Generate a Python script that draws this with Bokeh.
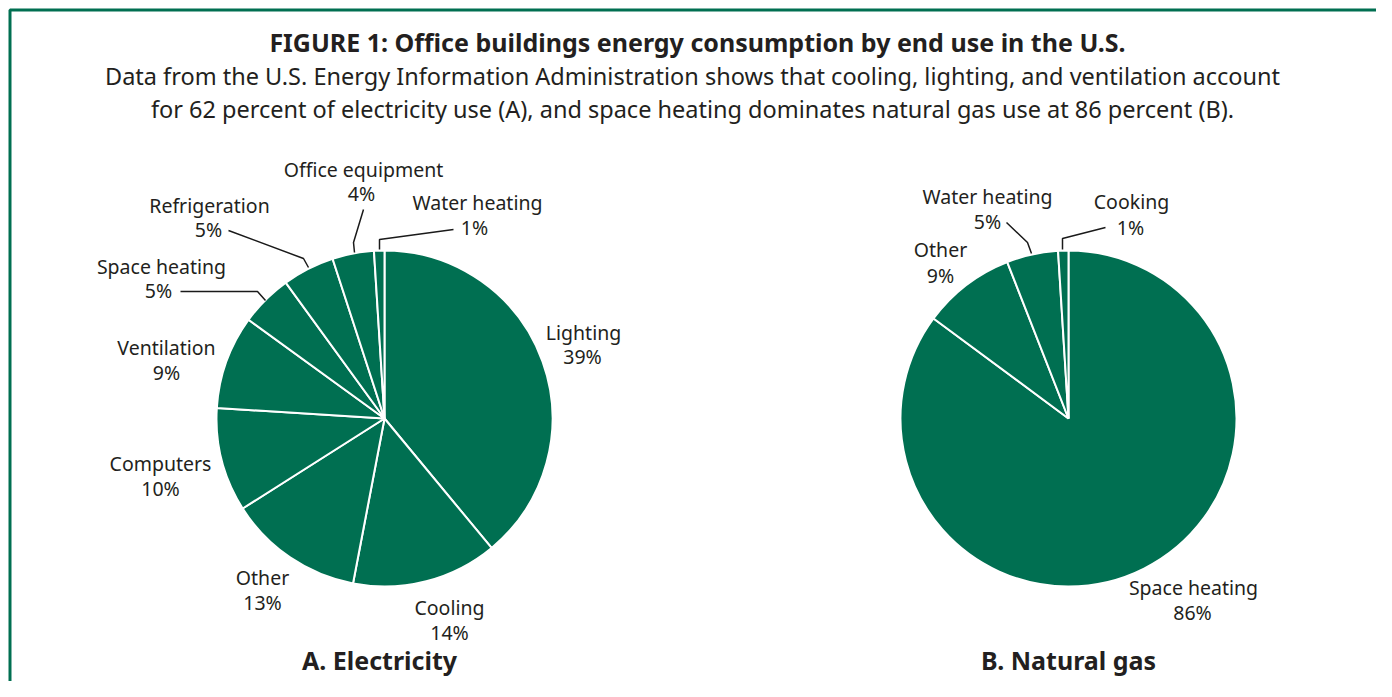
import math
from bokeh.plotting import figure
from bokeh.models import ColumnDataSource, Range1d
from bokeh.core.properties import value
from bokeh.embed import file_html
from bokeh.resources import INLINE

# ---------------- data ----------------
elec_categories = ["Lighting", "Cooling", "Other", "Computers", "Ventilation",
                   "Space heating", "Refrigeration", "Office equipment", "Water heating"]
elec_values = [39, 14, 13, 10, 9, 5, 5, 4, 1]

gas_categories = ["Space heating", "Other", "Water heating", "Cooking"]
gas_values = [86, 9, 5, 1]

title_text = "FIGURE 1: Office buildings energy consumption by end use in the U.S."
subtitle_lines = [
    "Data from the U.S. Energy Information Administration shows that cooling, lighting, and ventilation account",
    "for 62 percent of electricity use (A), and space heating dominates natural gas use at 86 percent (B).",
]
panel_titles = ["A. Electricity", "B. Natural gas"]

# ---------------- layout (picture pixel coords) ----------------
W, H = 1376, 681
GREEN = "#006f51"
TEXT = "#231f20"
FONT = "Noto Sans"

def X(px):
    return px

def Y(py):
    return H - py

# label centres: (name x, name y, pct x, pct y)
elec_label_pos = {
    "Lighting": (583, 333, 582, 357),
    "Cooling": (449, 608, 449, 633),
    "Other": (262, 578, 262, 603),
    "Computers": (160, 464, 160, 489),
    "Ventilation": (166, 348, 166, 373),
    "Space heating": (161, 267, 158, 291),
    "Refrigeration": (209, 206, 208, 230),
    "Office equipment": (363, 170, 361, 194),
    "Water heating": (477, 203, 474, 228),
}
gas_label_pos = {
    "Space heating": (1193, 588, 1192, 613),
    "Other": (940, 250, 940, 276),
    "Water heating": (987, 197, 987, 222),
    "Cooking": (1131, 202, 1130, 228),
}
leaders = [
    [(228, 230), (303, 258), (308, 267)],
    [(363, 209), (353, 242), (354, 252)],
    [(453, 229), (379, 239), (379, 249)],
    [(180, 291), (257, 291), (265, 300)],
    [(1006, 222), (1027, 242), (1031, 253)],
    [(1105, 227), (1062, 238), (1062, 249)],
]

p = figure(width=W, height=H, x_range=Range1d(0, W), y_range=Range1d(0, H),
           output_backend="svg", toolbar_location=None, min_border=0,
           x_axis_location=None, y_axis_location=None)
p.grid.visible = False
p.outline_line_color = None
p.background_fill_color = "white"

# frame (cropped at right and bottom)
p.line(x=[X(9.5), X(9.5), X(1500)], y=[Y(800), Y(9.5), Y(9.5)],
       line_color=GREEN, line_width=3)

def pie(cx, cy, r, vals):
    total = float(sum(vals))
    starts, ends = [], []
    c = 0.0
    for v in vals:
        starts.append(math.pi / 2 - 2 * math.pi * (c + v) / total)
        ends.append(math.pi / 2 - 2 * math.pi * c / total)
        c += v
    src = ColumnDataSource(dict(start=starts, end=ends))
    p.wedge(x=X(cx), y=Y(cy), radius=r, start_angle="start", end_angle="end",
            source=src, fill_color=GREEN, line_color="white", line_width=2)

pie(384, 418, 168, elec_values)
pie(1068, 418, 168, gas_values)

# leader lines
p.multi_line(xs=[[X(a) for a, b in seg] for seg in leaders],
             ys=[[Y(b) for a, b in seg] for seg in leaders],
             line_color="#1a1a1a", line_width=1.5)

def labels(cats, vals, pos):
    xs, ys, ts = [], [], []
    for c, v in zip(cats, vals):
        nx, ny, px_, py_ = pos[c]
        xs += [X(nx), X(px_)]
        ys += [Y(ny - 1), Y(py_ - 1)]
        ts += [c, f"{v}%"]
    p.text(x=xs, y=ys, text=ts, text_align="center", text_baseline="middle",
           text_font=value(FONT), text_font_size="19.5px", text_color=TEXT)

labels(elec_categories, elec_values, elec_label_pos)
labels(gas_categories, gas_values, gas_label_pos)

# titles
p.text(x=[X(697)], y=[Y(41)], text=[title_text], text_align="center",
       text_baseline="middle", text_font=value(FONT), text_font_style="bold",
       text_font_size="25px", text_color=TEXT)
p.text(x=[X(692), X(692)], y=[Y(75), Y(108)], text=subtitle_lines,
       text_align="center", text_baseline="middle", text_font=value(FONT),
       text_font_size="23.5px", text_color=TEXT)
p.text(x=[X(379), X(1068)], y=[Y(659), Y(659)], text=panel_titles,
       text_align="center", text_baseline="middle", text_font=value(FONT),
       text_font_style="bold", text_font_size="25px", text_color=TEXT)

open("out.html", "w").write(file_html(p, INLINE))
